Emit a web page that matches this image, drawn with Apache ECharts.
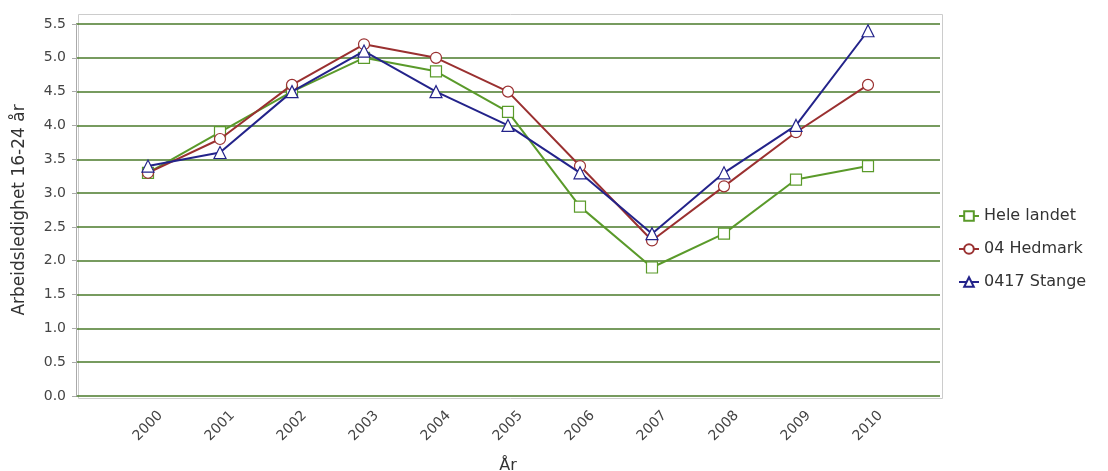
<!DOCTYPE html>
<html><head><meta charset="utf-8">
<script src="https://cdn.jsdelivr.net/npm/echarts@6/dist/echarts.min.js"></script>
<style>html,body{margin:0;padding:0;background:#fff}#c{width:1108px;height:471px}</style>
</head><body><div id="c"></div>
<script>
const years = [2000, 2001, 2002, 2003, 2004, 2005, 2006, 2007, 2008, 2009, 2010];
const heleLandet = [3.3, 3.9, 4.5, 5.0, 4.8, 4.2, 2.8, 1.9, 2.4, 3.2, 3.4];
const hedmark = [3.3, 3.8, 4.6, 5.2, 5.0, 4.5, 3.4, 2.3, 3.1, 3.9, 4.6];
const stange = [3.4, 3.6, 4.5, 5.1, 4.5, 4.0, 3.3, 2.4, 3.3, 4.0, 5.4];
const seriesNames = ['Hele landet', '04 Hedmark', '0417 Stange'];
const yTicks = [0, 0.5, 1, 1.5, 2, 2.5, 3, 3.5, 4, 4.5, 5, 5.5];

const colors = ['#5a9a2a', '#9a3030', '#23238a'];
const symbols = ['rect', 'circle', 'triangle'];
const dataSets = [heleLandet, hedmark, stange];

const chart = echarts.init(document.getElementById('c'));
const font = 'DejaVu Sans, Liberation Sans, sans-serif';
chart.setOption({
  animation: false,
  backgroundColor: '#fff',
  grid: { left: 76, right: 168, top: 24, bottom: 75, containLabel: false, outerBoundsMode: 'none' },
  legend: {
    orient: 'vertical', left: 958, top: 208, padding: 0, itemGap: 17, itemWidth: 20, itemHeight: 12,
    textStyle: { fontFamily: font, fontSize: 16, color: '#333' },
    data: seriesNames
  },
  xAxis: {
    type: 'value', min: years[0] - 1, max: years[years.length - 1] + 1, interval: 1,
    name: 'År', nameLocation: 'middle', nameGap: 62,
    nameTextStyle: { fontFamily: font, fontSize: 16, color: '#333' },
    axisLine: { show: false },
    axisTick: { show: false },
    splitLine: { show: false },
    axisLabel: {
      rotate: 45, align: 'center', verticalAlign: 'middle', margin: 30,
      fontFamily: font, fontSize: 14, color: '#444',
      formatter: v => years.includes(v) ? String(v) : ''
    }
  },
  yAxis: {
    type: 'value', min: yTicks[0], max: yTicks[yTicks.length - 1], interval: 0.5,
    name: 'Arbeidsledighet 16-24 år', nameLocation: 'middle', nameGap: 48,
    nameTextStyle: { fontFamily: font, fontSize: 17, color: '#333' },
    axisLine: { show: true, lineStyle: { color: '#aaa' } },
    axisTick: { show: true, length: 4, lineStyle: { color: '#aaa' } },
    splitLine: { show: true, lineStyle: { color: '#4a7a2a', width: 1.5 } },
    axisLabel: { fontFamily: font, fontSize: 14, color: '#444', margin: 10,
      formatter: v => v.toFixed(1) }
  },
  graphic: [{
    type: 'rect', left: 76, top: 12, z: -1,
    shape: { width: 864, height: 384 },
    style: { fill: 'none', stroke: '#ccc', lineWidth: 1 }
  }],
  series: dataSets.map((d, i) => ({
    name: seriesNames[i], type: 'line',
    data: d.map((v, j) => [years[j], v]),
    symbol: symbols[i], symbolSize: i === 2 ? 12 : 11,
    showAllSymbol: true,
    lineStyle: { color: colors[i], width: 2 },
    itemStyle: { color: '#fff', borderColor: colors[i], borderWidth: 1.2 },
    z: 2 + i
  }))
});
</script></body></html>
